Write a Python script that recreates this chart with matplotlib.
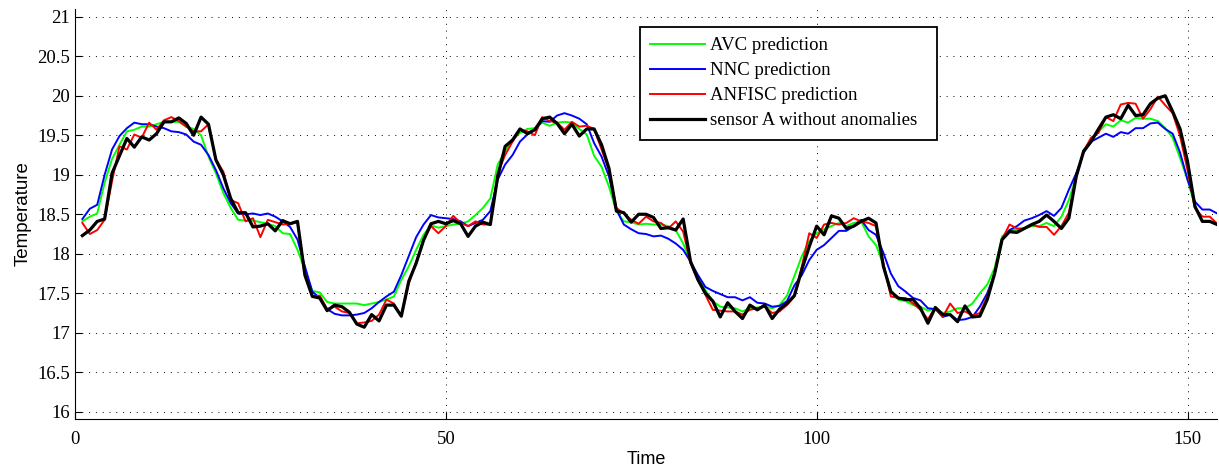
import numpy as np
import matplotlib
matplotlib.use("Agg")
import matplotlib.pyplot as plt

# time index 1..154
time = np.arange(1, 155)

avc = [18.41, 18.47, 18.51, 18.90, 19.20, 19.38, 19.55, 19.57, 19.61, 19.61,
       19.64, 19.67, 19.67, 19.67, 19.61, 19.58, 19.50, 19.23, 19.02, 18.77,
       18.58, 18.43, 18.42, 18.42, 18.40, 18.38, 18.35, 18.26, 18.25, 18.05,
       17.80, 17.53, 17.51, 17.39, 17.37, 17.37, 17.37, 17.37, 17.35, 17.37,
       17.39, 17.42, 17.46, 17.67, 17.84, 18.05, 18.24, 18.36, 18.33, 18.35,
       18.37, 18.38, 18.41, 18.49, 18.58, 18.70, 19.13, 19.30, 19.44, 19.53,
       19.58, 19.59, 19.66, 19.62, 19.66, 19.67, 19.66, 19.58, 19.51, 19.24,
       19.10, 18.85, 18.54, 18.41, 18.40, 18.37, 18.38, 18.37, 18.37, 18.35,
       18.30, 18.13, 17.90, 17.71, 17.54, 17.40, 17.33, 17.32, 17.31, 17.27,
       17.31, 17.32, 17.33, 17.31, 17.35, 17.47, 17.72, 17.97, 18.16, 18.26,
       18.31, 18.35, 18.39, 18.35, 18.39, 18.41, 18.22, 18.11, 17.86, 17.54,
       17.42, 17.40, 17.35, 17.33, 17.28, 17.31, 17.25, 17.27, 17.31, 17.31,
       17.37, 17.50, 17.61, 17.82, 18.22, 18.30, 18.30, 18.32, 18.35, 18.35,
       18.39, 18.35, 18.47, 18.68, 18.98, 19.30, 19.45, 19.55, 19.64, 19.61,
       19.69, 19.66, 19.72, 19.71, 19.71, 19.68, 19.59, 19.47, 19.21, 18.94,
       18.60, 18.41, 18.41, 18.37]

nnc = [18.44, 18.57, 18.62, 19.00, 19.32, 19.49, 19.59, 19.66, 19.64, 19.64,
       19.61, 19.59, 19.55, 19.54, 19.51, 19.42, 19.38, 19.25, 19.06, 18.83,
       18.64, 18.51, 18.50, 18.51, 18.49, 18.51, 18.47, 18.41, 18.34, 18.18,
       17.84, 17.52, 17.44, 17.30, 17.24, 17.22, 17.22, 17.23, 17.25, 17.31,
       17.39, 17.46, 17.52, 17.73, 17.97, 18.21, 18.37, 18.49, 18.46, 18.45,
       18.44, 18.41, 18.35, 18.39, 18.43, 18.54, 18.94, 19.13, 19.25, 19.42,
       19.51, 19.57, 19.68, 19.67, 19.75, 19.78, 19.75, 19.71, 19.64, 19.40,
       19.23, 18.98, 18.56, 18.37, 18.31, 18.26, 18.25, 18.22, 18.23, 18.19,
       18.13, 18.05, 17.90, 17.73, 17.58, 17.53, 17.49, 17.45, 17.45, 17.41,
       17.45, 17.38, 17.37, 17.33, 17.34, 17.40, 17.60, 17.73, 17.92, 18.05,
       18.11, 18.20, 18.29, 18.29, 18.35, 18.43, 18.30, 18.24, 18.01, 17.75,
       17.59, 17.52, 17.44, 17.41, 17.31, 17.30, 17.20, 17.23, 17.16, 17.17,
       17.20, 17.33, 17.50, 17.75, 18.18, 18.30, 18.35, 18.42, 18.45, 18.49,
       18.54, 18.48, 18.58, 18.81, 19.02, 19.28, 19.42, 19.47, 19.52, 19.48,
       19.54, 19.52, 19.59, 19.59, 19.65, 19.66, 19.58, 19.52, 19.28, 18.94,
       18.66, 18.56, 18.56, 18.51]

anfisc = [18.39, 18.25, 18.30, 18.43, 18.92, 19.36, 19.32, 19.51, 19.47, 19.66,
          19.57, 19.69, 19.73, 19.68, 19.61, 19.55, 19.55, 19.64, 19.19, 19.04,
          18.68, 18.64, 18.41, 18.45, 18.21, 18.43, 18.40, 18.37, 18.38, 18.40,
          17.75, 17.46, 17.47, 17.30, 17.33, 17.27, 17.25, 17.12, 17.13, 17.15,
          17.23, 17.42, 17.37, 17.21, 17.62, 17.90, 18.18, 18.35, 18.26, 18.35,
          18.48, 18.39, 18.35, 18.41, 18.37, 18.37, 19.02, 19.25, 19.42, 19.57,
          19.55, 19.50, 19.73, 19.68, 19.66, 19.57, 19.67, 19.61, 19.62, 19.58,
          19.32, 19.06, 18.58, 18.51, 18.43, 18.38, 18.47, 18.41, 18.39, 18.32,
          18.41, 18.28, 17.88, 17.67, 17.48, 17.29, 17.28, 17.27, 17.27, 17.23,
          17.29, 17.31, 17.33, 17.25, 17.27, 17.35, 17.46, 17.84, 18.26, 18.20,
          18.37, 18.39, 18.37, 18.39, 18.45, 18.41, 18.39, 18.35, 17.88, 17.46,
          17.44, 17.44, 17.37, 17.29, 17.17, 17.32, 17.20, 17.37, 17.25, 17.27,
          17.22, 17.25, 17.46, 17.75, 18.18, 18.37, 18.32, 18.32, 18.37, 18.34,
          18.34, 18.24, 18.35, 18.52, 18.98, 19.30, 19.47, 19.53, 19.73, 19.68,
          19.89, 19.91, 19.90, 19.71, 19.83, 19.99, 19.88, 19.78, 19.49, 19.06,
          18.58, 18.47, 18.47, 18.38]

sensor_a = [18.23, 18.30, 18.41, 18.44, 19.02, 19.24, 19.46, 19.35, 19.48, 19.44,
            19.52, 19.67, 19.67, 19.72, 19.65, 19.50, 19.73, 19.64, 19.19, 19.00,
            18.70, 18.52, 18.52, 18.34, 18.35, 18.38, 18.29, 18.42, 18.38, 18.41,
            17.73, 17.46, 17.44, 17.28, 17.35, 17.33, 17.26, 17.11, 17.07, 17.23,
            17.15, 17.35, 17.35, 17.21, 17.65, 17.88, 18.17, 18.38, 18.41, 18.38,
            18.42, 18.38, 18.22, 18.35, 18.40, 18.37, 18.98, 19.36, 19.44, 19.58,
            19.52, 19.57, 19.71, 19.73, 19.65, 19.52, 19.64, 19.49, 19.58, 19.58,
            19.38, 19.08, 18.54, 18.52, 18.40, 18.50, 18.50, 18.46, 18.32, 18.33,
            18.30, 18.44, 17.90, 17.67, 17.50, 17.40, 17.20, 17.38, 17.27, 17.18,
            17.35, 17.29, 17.35, 17.18, 17.30, 17.37, 17.47, 17.80, 18.09, 18.35,
            18.24, 18.48, 18.45, 18.32, 18.35, 18.41, 18.45, 18.39, 17.84, 17.52,
            17.44, 17.42, 17.42, 17.31, 17.12, 17.32, 17.23, 17.23, 17.14, 17.34,
            17.20, 17.21, 17.42, 17.75, 18.18, 18.28, 18.27, 18.32, 18.37, 18.41,
            18.49, 18.41, 18.32, 18.45, 18.98, 19.30, 19.42, 19.58, 19.73, 19.76,
            19.71, 19.88, 19.75, 19.76, 19.90, 19.97, 20.00, 19.80, 19.58, 19.17,
            18.60, 18.41, 18.41, 18.37]

serif = "Liberation Serif"
sans = "Liberation Sans"

fig = plt.figure(figsize=(12.19, 4.68), dpi=100)
ax = fig.add_axes([0.0615, 0.105, 0.937, 0.876])

ax.plot(time, avc, color="#00ff00", lw=1.4, label="AVC prediction")
ax.plot(time, nnc, color="#0000ff", lw=1.4, label="NNC prediction")
ax.plot(time, anfisc, color="#ff0000", lw=1.4, label="ANFISC prediction")
ax.plot(time, sensor_a, color="black", lw=2.3, label="sensor A without anomalies")

ax.set_xlim(0, 154)
ax.set_ylim(15.91, 21.1)
ax.set_xticks([0, 50, 100, 150])
ax.set_yticks(np.arange(16, 21.01, 0.5))
ax.set_yticklabels(["16", "16.5", "17", "17.5", "18", "18.5", "19", "19.5",
                    "20", "20.5", "21"])
ax.grid(True, color="black", linestyle=(0, (1, 6)), lw=0.7)

ax.spines["top"].set_visible(False)
ax.spines["right"].set_visible(False)
ax.tick_params(direction="in", length=5, width=0.8, labelsize=13.5)
ax.tick_params(axis="x", pad=9)
for lbl in ax.get_xticklabels() + ax.get_yticklabels():
    lbl.set_family(serif)

ax.set_xlabel("Time", fontsize=13, family=sans, labelpad=2)
ax.set_ylabel("Temperature", fontsize=13.5, family=sans, labelpad=4)

leg = ax.legend(loc="upper left", bbox_to_anchor=(0.4947, 0.956, 0.26, 0),
                mode="expand", borderaxespad=0,
                prop={"family": serif, "size": 13.5},
                fancybox=False, framealpha=1, edgecolor="black",
                borderpad=0.55, handlelength=2.9, labelspacing=0.42,
                handletextpad=0.3)
leg.get_frame().set_linewidth(1.3)

fig.savefig("out.png", dpi=100)
